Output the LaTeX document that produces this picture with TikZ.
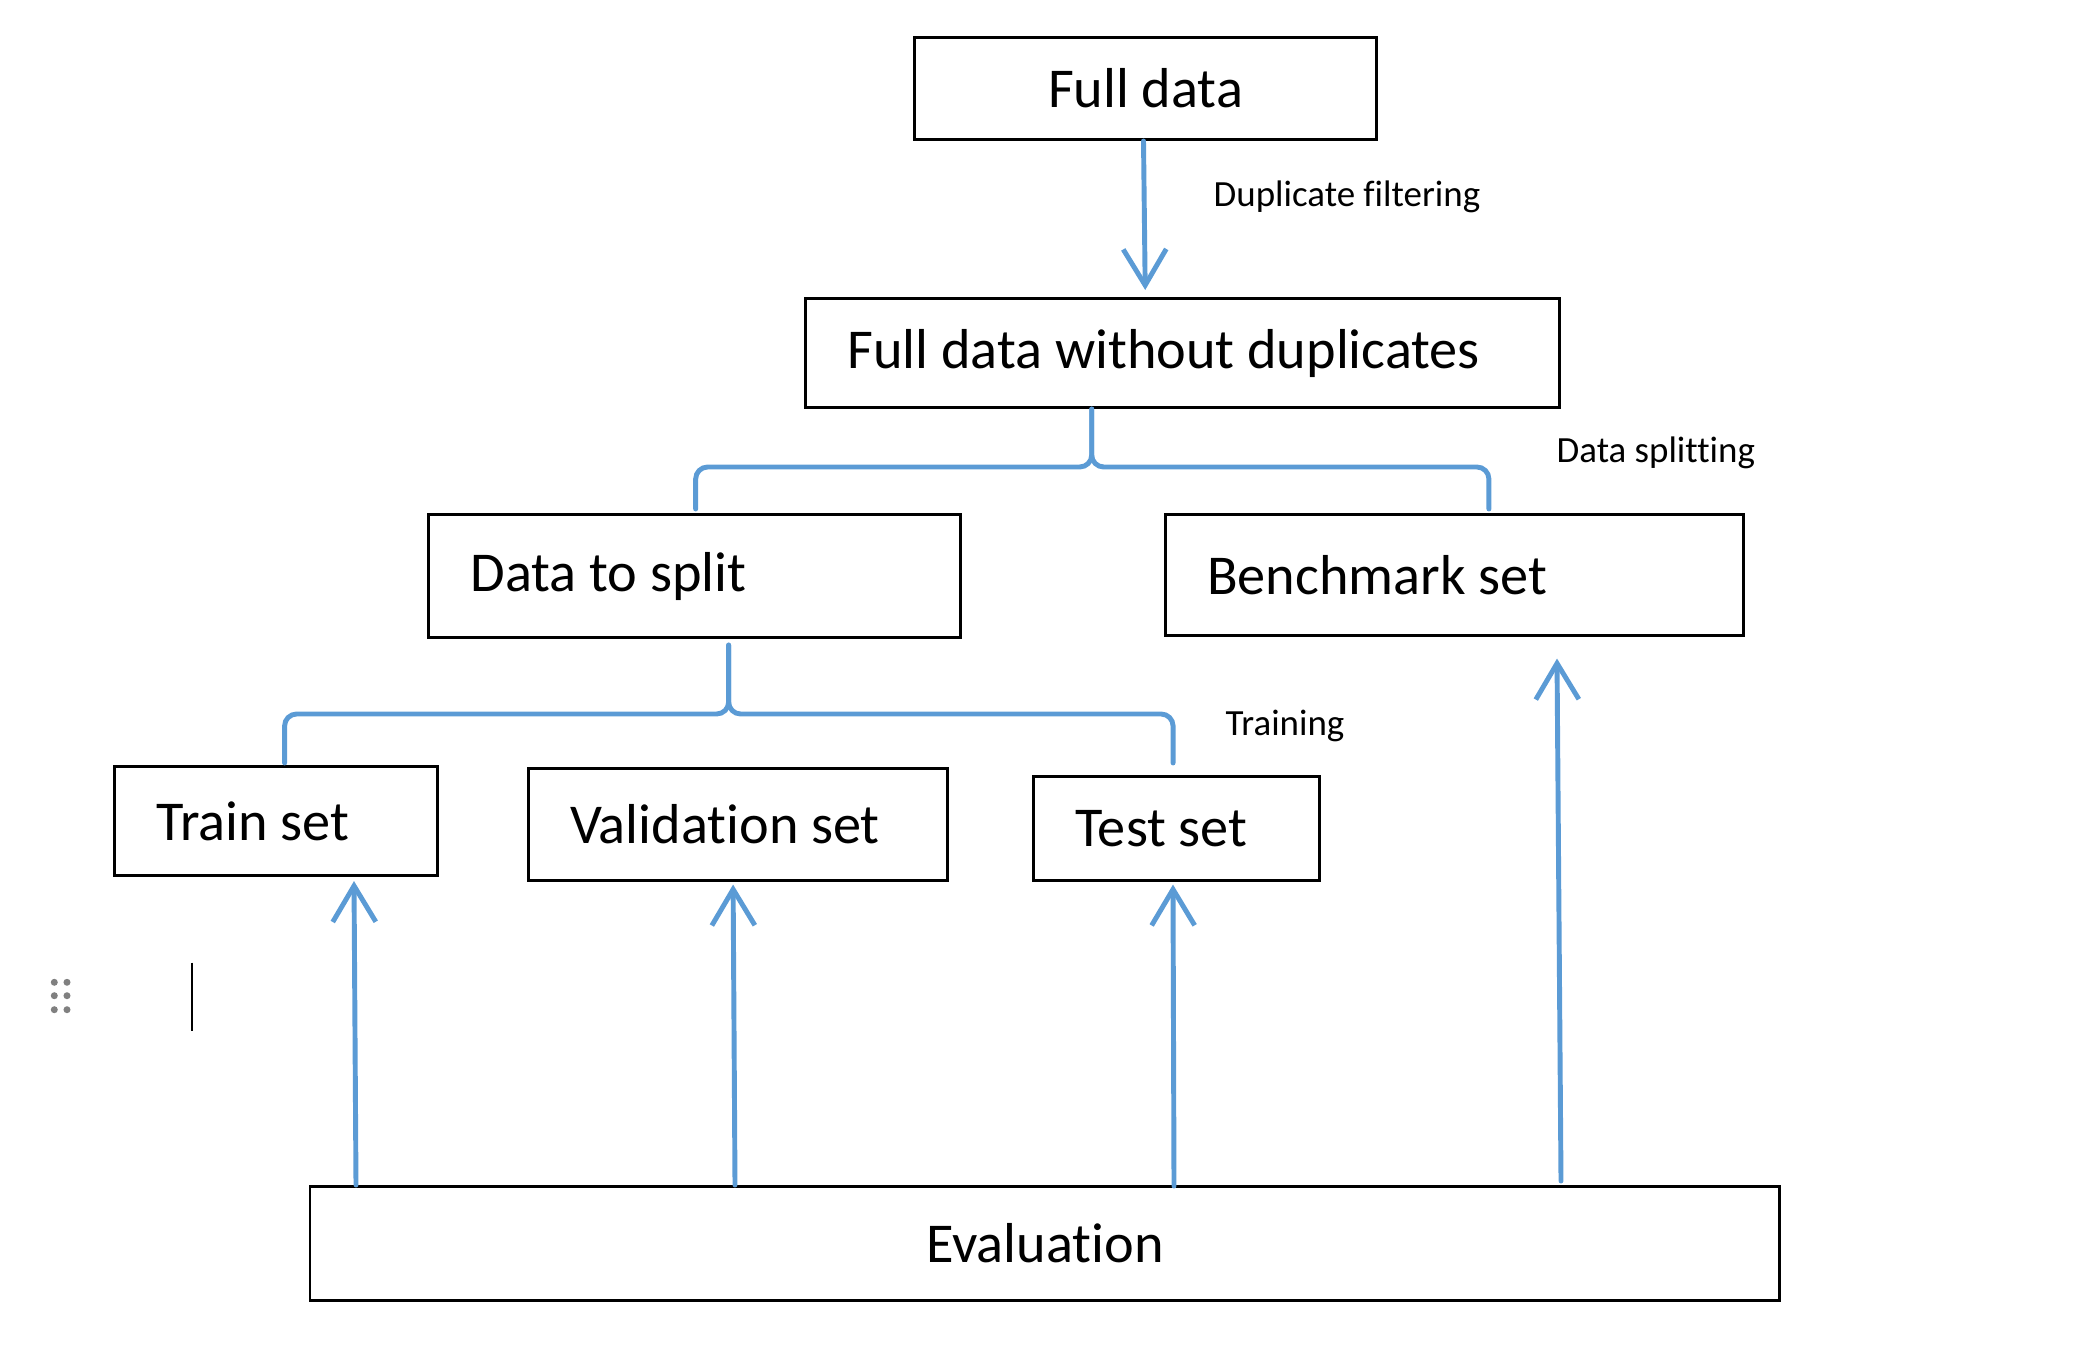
\documentclass[tikz,border=0pt]{standalone}
\usepackage{fontspec}
\setmainfont{Carlito}[Ligatures=NoCommon]
\usetikzlibrary{arrows.meta}
\usetikzlibrary{calc}
\definecolor{splitblue}{RGB}{91,155,213}
\definecolor{handlegray}{RGB}{128,128,128}
\tikzstyle{databox} = [rectangle, draw=black, line width=0.85pt, inner xsep=0.42cm, inner ysep=0pt, align=flush left, anchor=north west, font=\fontsize{16}{19}\selectfont]
\tikzstyle{centerbox} = [rectangle, draw=black, line width=0.85pt, inner sep=0pt, anchor=north west, font=\fontsize{16}{19}\selectfont]
\tikzstyle{steplabel} = [anchor=west, inner sep=0pt, font=\fontsize{10.5}{12}\selectfont]
\tikzstyle{arrow} = [draw=splitblue, line width=1.4pt, line cap=round, -{Straight Barb[length=3.6mm, width=4.3mm]}]
\tikzstyle{brace} = [draw=splitblue, line width=1.4pt, line cap=round, rounded corners=0.12cm]

\begin{document}
\begin{tikzpicture}[x=0.01cm, y=-0.01cm]
\useasboundingbox (0,0) rectangle (2085,1352);
\node (full) [centerbox, minimum width=4.62cm, minimum height=1.02cm] at (913,36) {Full data};
\node (fdwd) [databox, minimum height=1.09cm, text width=6.70cm] at (804,297) {Full data without duplicates};
\node (split) [databox, minimum height=1.23cm, text width=4.48cm] at (427,513) {Data to split};
\node (bench) [databox, minimum height=1.21cm, text width=4.945cm] at (1163.5,513) {Benchmark set};
\node (train) [databox, minimum height=1.09cm, text width=2.39cm] at (113,765) {Train set};
\node (valid) [databox, minimum height=1.12cm, text width=3.35cm] at (526.6,767) {Validation set};
\node (test) [databox, minimum height=1.04cm, text width=2.02cm] at (1032,775) {Test set};
\node (eval) [centerbox, minimum width=14.69cm, minimum height=1.14cm] at (308.5,1185) {Evaluation};
\node (duplab) [steplabel] at (1213,197) {Duplicate filtering};
\node (splitlab) [steplabel] at (1556,453) {Data splitting};
\node (trainlab) [steplabel] at (1225,726) {Training};
\coordinate (fdwdtip) at ($(fdwd.north)+(-37.5,-7)$);
\coordinate (bracetop) at ($(fdwd.south)+(-91,0)$);
\coordinate (braceleft) at ($(split.north)+(1,-4)$);
\coordinate (braceright) at ($(bench.north)+(34.5,-4)$);
\coordinate (splittop) at ($(split.south)+(34,6)$);
\coordinate (splitleft) at ($(train.north)+(8.5,-2)$);
\coordinate (splitright) at ($(test.north)+(-3.5,-12)$);
\coordinate (evala) at ($(eval.north west)+(47.5,0)$);
\coordinate (evalb) at ($(eval.north west)+(426.5,0)$);
\coordinate (evalc) at ($(eval.north west)+(865.5,1)$);
\coordinate (evald) at ($(eval.north west)+(1252.5,-4)$);
\coordinate (traintip) at ($(train.south west)+(241,4)$);
\coordinate (validtip) at ($(valid.south west)+(206.5,2.5)$);
\coordinate (testtip) at ($(test.south west)+(141,2.5)$);
\coordinate (benchtip) at ($(bench.south west)+(393.5,21.5)$);
\draw [arrow] (full.south -| 1143.5,0) -- (fdwdtip);
\draw [brace] (braceleft) -- (braceleft |- 0,467) -- (bracetop |- 0,467) -- (bracetop);
\draw [brace] (braceright) -- (braceright |- 0,467) -- (bracetop |- 0,467) -- (bracetop);
\draw [brace] (splitleft) -- (splitleft |- 0,714) -- (splittop |- 0,714) -- (splittop);
\draw [brace] (splitright) -- (splitright |- 0,714) -- (splittop |- 0,714) -- (splittop);
\draw [arrow] (evala) -- (traintip);
\draw [arrow] (evalb) -- (validtip);
\draw [arrow] (evalc) -- (testtip);
\draw [arrow] (evald) -- (benchtip);
\foreach \hx in {54.3,67}
  \foreach \hy in {982.3,995.7,1009.7}
    \fill [handlegray] (\hx,\hy) circle [radius=0.035cm];
\draw [black, line width=0.57pt] (192,962.7) -- (192,1031);
\end{tikzpicture}
\end{document}
